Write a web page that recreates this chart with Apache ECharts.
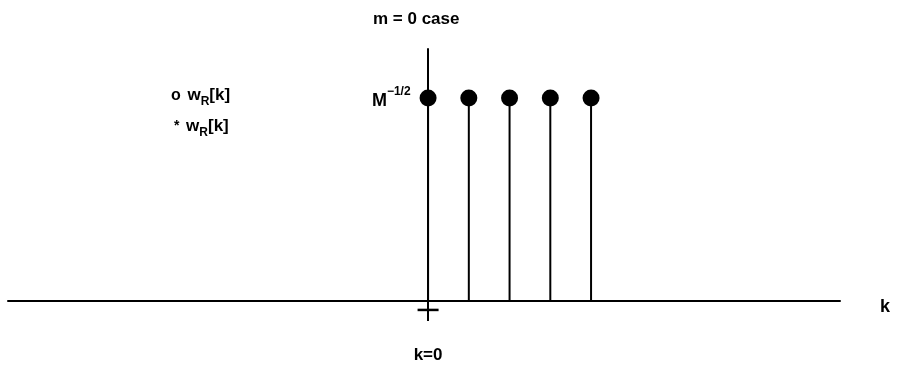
<!DOCTYPE html>
<html>
<head>
<meta charset="utf-8">
<script src="https://cdn.jsdelivr.net/npm/echarts@6/dist/echarts.min.js"></script>
<style>
html,body{margin:0;padding:0;background:#fff;}
#c{width:903px;height:365px;}
</style>
</head>
<body>
<div id="c"></div>
<script>
// data
const kValues = [0, 1, 2, 3, 4];
const wValues = [1, 1, 1, 1, 1];
const xTickValues = [0];
const titleText = 'm = 0 case';
const xName = 'k';
const xTickLabel = 'k=0';
const levelLabel = '{m|M}{s|−1/2}';

const FONT = 'Liberation Sans, Arial, sans-serif';
const chart = echarts.init(document.getElementById('c'), null, {renderer: 'canvas'});

const stems = kValues.map((k, i) => [k, wValues[i]]);

chart.setOption({
  backgroundColor: '#fff',
  animation: false,
  title: {
    text: titleText,
    left: 368, top: 6,
    textStyle: {fontFamily: FONT, fontSize: 17, fontWeight: 'bold', color: '#000'}
  },
  grid: {left: 8, right: 63, top: 49, bottom: 64, containLabel: false, outerBoundsMode: 'none'},
  xAxis: {
    type: 'value',
    min: -10.31, max: 10.11,
    name: xName,
    nameLocation: 'end',
    nameGap: 40,
    nameTextStyle: {fontFamily: FONT, fontSize: 18, fontWeight: 'bold', color: '#000', verticalAlign: 'top', lineHeight: 12},
    axisLine: {show: true, onZero: true, lineStyle: {color: '#000', width: 2}},
    axisTick: {show: true, customValues: xTickValues, length: 20, lineStyle: {color: '#000', width: 2}},
    axisLabel: {
      show: true, customValues: xTickValues, margin: 46,
      formatter: () => xTickLabel,
      fontFamily: FONT, fontSize: 17, fontWeight: 'bold', color: '#000'
    },
    splitLine: {show: false}
  },
  yAxis: {
    type: 'value',
    min: 0, max: 1.241,
    axisLine: {show: true, onZero: true, lineStyle: {color: '#000', width: 2}},
    axisTick: {show: false},
    axisLabel: {show: false},
    splitLine: {show: false}
  },
  graphic: [
    {
      type: 'text', left: 171, top: 87,
      style: {
        text: '{a|o}  {b|w}{s|R}{b|[k]}',
        rich: {
          a: {fontFamily: FONT, fontSize: 16, fontWeight: 'bold', fill: '#000'},
          b: {fontFamily: FONT, fontSize: 17, fontWeight: 'bold', fill: '#000'},
          s: {fontFamily: FONT, fontSize: 12, fontWeight: 'bold', fill: '#000', padding: [13, 0, 0, 0]}
        }
      }
    },
    {
      type: 'text', left: 174, top: 118,
      style: {
        text: '{a|*}  {b|w}{s|R}{b|[k]}',
        rich: {
          a: {fontFamily: FONT, fontSize: 14, fontWeight: 'bold', fill: '#000'},
          b: {fontFamily: FONT, fontSize: 17, fontWeight: 'bold', fill: '#000'},
          s: {fontFamily: FONT, fontSize: 12, fontWeight: 'bold', fill: '#000', padding: [13, 0, 0, 0]}
        }
      }
    }
  ],
  series: [
    {
      type: 'bar',
      data: stems,
      barWidth: 2,
      itemStyle: {color: '#000'},
      silent: true,
      z: 2
    },
    {
      type: 'scatter',
      data: stems.map((d, i) => i === 0 ? {
        value: d,
        label: {
          show: true, position: 'left', distance: 9,
          formatter: () => levelLabel,
          rich: {
            m: {fontFamily: FONT, fontSize: 18, fontWeight: 'bold', color: '#000', verticalAlign: 'bottom'},
            s: {fontFamily: FONT, fontSize: 12, fontWeight: 'bold', color: '#000', padding: [0, 0, 12, 0]}
          }
        }
      } : d),
      symbol: 'circle',
      symbolSize: 17,
      itemStyle: {color: '#000', opacity: 1},
      silent: true,
      z: 5
    },
    {
      type: 'scatter',
      data: [[0, -0.044]],
      symbol: 'rect',
      symbolSize: [21, 2.5],
      itemStyle: {color: '#000', opacity: 1},
      clip: false,
      silent: true
    }
  ]
});
</script>
</body>
</html>
